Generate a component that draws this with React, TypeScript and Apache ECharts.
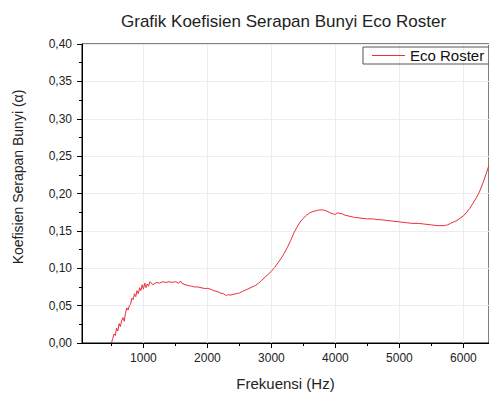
import React, { useEffect, useRef } from "react";
import * as echarts from "echarts";

const titleText = "Grafik Koefisien Serapan Bunyi Eco Roster";
const xName = "Frekuensi (Hz)";
const yName = "Koefisien Serapan Bunyi (\u03b1)";
const seriesName = "Eco Roster";

const xMajorTicks = [1000, 2000, 3000, 4000, 5000, 6000];
const xMinorTicks = [500, 1500, 2500, 3500, 4500, 5500];

const freq = [
  500, 520, 540, 560, 580, 600, 620, 640, 660, 680, 700, 720, 740, 760, 780,
  800, 820, 840, 860, 880, 900, 920, 940, 960, 980, 1000, 1020, 1040, 1060,
  1080, 1100, 1150, 1200, 1250, 1300, 1350, 1400, 1450, 1500, 1550, 1580,
  1600, 1650, 1700, 1750, 1800, 1850, 1900, 1950, 2000, 2050, 2100, 2150,
  2200, 2250, 2300, 2320, 2350, 2400, 2450, 2500, 2550, 2600, 2650, 2700,
  2750, 2800, 2850, 2900, 2950, 3000, 3050, 3100, 3150, 3200, 3250, 3300,
  3350, 3400, 3450, 3500, 3550, 3600, 3650, 3700, 3750, 3800, 3850, 3900,
  3950, 4000, 4030, 4100, 4150, 4200, 4300, 4400, 4500, 4600, 4650, 4700,
  4800, 4900, 5000, 5100, 5200, 5300, 5400, 5500, 5600, 5650, 5700, 5750,
  5800, 5850, 5900, 5950, 6000, 6050, 6100, 6150, 6200, 6250, 6300, 6350,
  6400,
];

const alpha = [
  0.0, 0.006, 0.012, 0.01, 0.02, 0.016, 0.026, 0.022, 0.03, 0.034, 0.029,
  0.04, 0.047, 0.044, 0.05, 0.052, 0.06, 0.058, 0.066, 0.062, 0.07, 0.066,
  0.074, 0.07, 0.078, 0.072, 0.08, 0.074, 0.079, 0.076, 0.082, 0.078, 0.081,
  0.08, 0.082, 0.081, 0.082, 0.081, 0.082, 0.08, 0.083, 0.08, 0.078, 0.077,
  0.076, 0.075, 0.075, 0.074, 0.073, 0.073, 0.072, 0.07, 0.069, 0.067, 0.066,
  0.063, 0.065, 0.064, 0.065, 0.066, 0.067, 0.069, 0.071, 0.073, 0.075,
  0.077, 0.08, 0.084, 0.088, 0.092, 0.096, 0.101, 0.107, 0.113, 0.12, 0.128,
  0.137, 0.147, 0.155, 0.162, 0.167, 0.171, 0.174, 0.176, 0.177, 0.178,
  0.178, 0.177, 0.175, 0.173, 0.172, 0.174, 0.173, 0.171, 0.17, 0.168, 0.167,
  0.166, 0.166, 0.165, 0.165, 0.164, 0.163, 0.162, 0.161, 0.16, 0.16, 0.159,
  0.158, 0.157, 0.157, 0.157, 0.158, 0.16, 0.162, 0.164, 0.167, 0.17, 0.175,
  0.18, 0.187, 0.194, 0.202, 0.213, 0.225, 0.238,
];

const FONT = "Liberation Sans, Arial, sans-serif";

export default function App() {
  const ref = useRef<HTMLDivElement>(null);
  useEffect(() => {
    if (!ref.current) return;
    const chart = echarts.init(ref.current, undefined, { renderer: "svg" });
    const data = freq.map((f, i) => [f, alpha[i]]);
    chart.setOption({
      animation: false,
      backgroundColor: "#fff",
      textStyle: { fontFamily: FONT },
      title: {
        text: titleText,
        left: 116,
        top: 8,
        textStyle: { fontFamily: FONT, fontSize: 17, fontWeight: "normal", color: "#222" },
      },
      legend: {
        left: 363,
        top: 47,
        padding: [1, 10, 1, 9],
        itemWidth: 33,
        itemHeight: 1,
        itemGap: 5,
        icon: "rect",
        borderColor: "#555",
        borderWidth: 1,
        textStyle: { fontFamily: FONT, fontSize: 15, color: "#111", lineHeight: 15 },
        data: [seriesName],
      },
      grid: {
        left: 82,
        top: 44,
        bottom: 53,
        right: -1,
        show: true,
        borderColor: "#000",
        borderWidth: 1,
        containLabel: false,
      },
      graphic: [
        {
          type: "text",
          x: 18,
          y: 177,
          rotation: Math.PI / 2,
          style: {
            text: yName,
            fontFamily: FONT,
            fontSize: 14,
            fill: "#222",
            textAlign: "center",
            textVerticalAlign: "middle",
          },
        },
      ],
      xAxis: [
        {
          type: "value",
          min: 40,
          max: 6400,
          name: xName,
          nameLocation: "middle",
          nameGap: 33,
          nameTextStyle: { fontFamily: FONT, fontSize: 15, color: "#222" },
          axisLine: { show: true, onZero: false, lineStyle: { color: "#000", width: 1 } },
          axisTick: { show: true, length: 5, customValues: xMajorTicks, lineStyle: { color: "#000" } },
          axisLabel: {
            customValues: xMajorTicks,
            margin: 9,
            fontFamily: FONT,
            fontSize: 12,
            color: "#222",
            formatter: (v: number) => String(Math.round(v)),
          },
          splitLine: { show: true, lineStyle: { color: "#ececec", width: 1 } },
        },
        {
          type: "value",
          min: 40,
          max: 6400,
          position: "bottom",
          axisLine: { show: false },
          axisTick: { show: true, length: 3, customValues: xMinorTicks, lineStyle: { color: "#000" } },
          axisLabel: { show: false },
          splitLine: { show: false },
        },
      ],
      yAxis: {
        type: "value",
        min: 0,
        max: 0.4,
        interval: 0.05,
        axisLine: { show: true, lineStyle: { color: "#000", width: 1 } },
        axisTick: { show: true, length: 5, lineStyle: { color: "#000" } },
        minorTick: { show: true, splitNumber: 2, length: 3, lineStyle: { color: "#000" } },
        axisLabel: {
          margin: 10,
          fontFamily: FONT,
          fontSize: 12,
          color: "#222",
          formatter: (v: number) => v.toFixed(2).replace(".", ","),
        },
        splitLine: { show: true, lineStyle: { color: "#ececec", width: 1 } },
      },
      series: [
        {
          name: seriesName,
          type: "line",
          xAxisIndex: 0,
          data,
          symbol: "none",
          lineStyle: { color: "#e8303a", width: 1 },
          itemStyle: { color: "#e8303a" },
        },
      ],
    });
    return () => chart.dispose();
  }, []);
  return (
    <div
      ref={ref}
      style={{ position: "fixed", left: 0, top: 0, width: 489, height: 396 }}
    />
  );
}
